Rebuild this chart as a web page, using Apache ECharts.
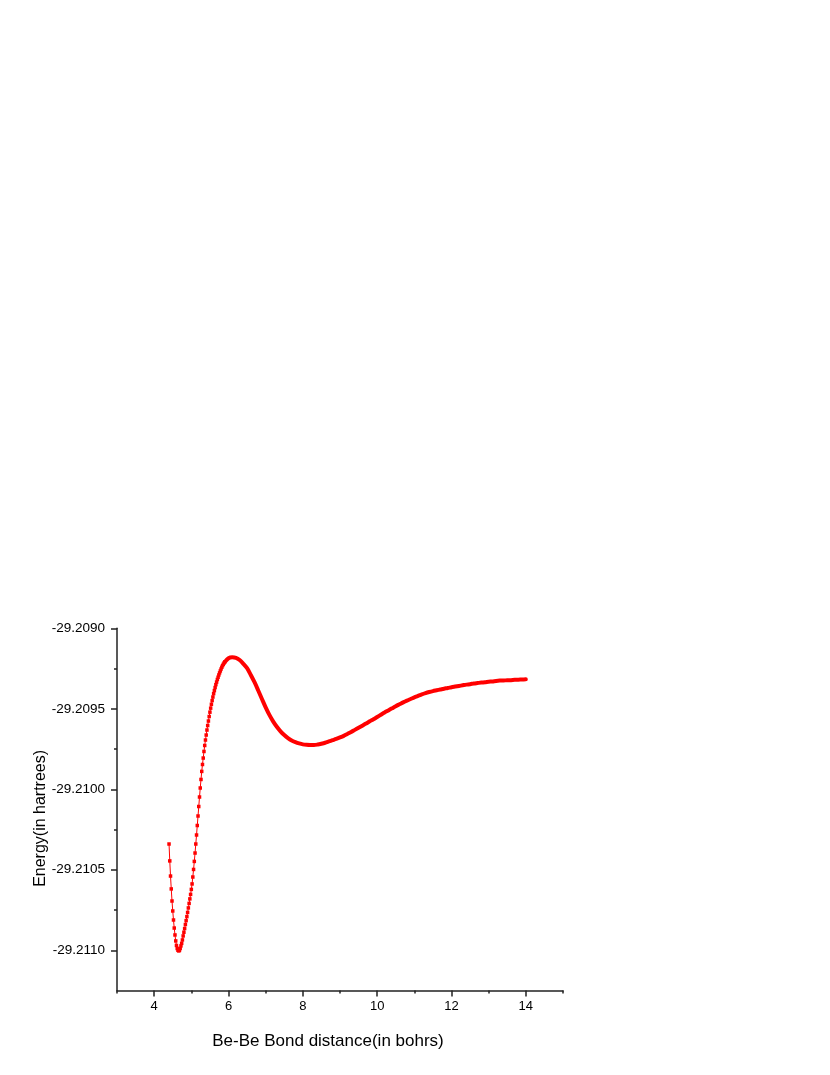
<!DOCTYPE html>
<html>
<head>
<meta charset="utf-8">
<script src="https://cdn.jsdelivr.net/npm/echarts@6/dist/echarts.min.js"></script>
<style>
html,body{margin:0;padding:0;background:#fff;}
#chart{width:830px;height:1075px;}
</style>
</head>
<body>
<div id="chart"></div>
<script>
// Bond distance (bohr) — densely sampled part near the well
const seg1X = [4.40,4.42,4.44,4.46,4.48,4.50,4.52,4.54,4.56,4.58,
  4.60,4.62,4.64,4.66,4.68,4.70,4.72,4.74,4.76,4.78,
  4.80,4.82,4.84,4.86,4.88,4.90,4.92,4.94,4.96,4.98,
  5.00,5.02,5.04,5.06,5.08,5.10,5.12,5.14,5.16,5.18,
  5.20,5.22,5.24,5.26,5.28,5.30,5.32,5.34,5.36,5.38,
  5.40,5.42,5.44,5.46,5.48,5.50,5.52,5.54,5.56,5.58,
  5.60,5.62,5.64,5.66,5.68,5.70,5.72,5.74,5.76,5.78,
  5.80,5.82,5.84,5.86,5.88,5.90];
// Energy (hartree)
const seg1E = [-29.210340,-29.210445,-29.210539,-29.210619,-29.210694,-29.210756,-29.210812,-29.210862,-29.210905,-29.210942,
  -29.210970,-29.210989,-29.211000,-29.211004,-29.211001,-29.210989,-29.210973,-29.210957,-29.210936,-29.210911,
  -29.210888,-29.210865,-29.210840,-29.210816,-29.210791,-29.210765,-29.210737,-29.210709,-29.210681,-29.210653,
  -29.210622,-29.210588,-29.210545,-29.210498,-29.210448,-29.210396,-29.210340,-29.210284,-29.210225,-29.210166,
  -29.210107,-29.210048,-29.209992,-29.209939,-29.209889,-29.209846,-29.209806,-29.209765,-29.209728,-29.209694,
  -29.209663,-29.209632,-29.209604,-29.209576,-29.209548,-29.209521,-29.209496,-29.209472,-29.209449,-29.209427,
  -29.209406,-29.209387,-29.209368,-29.209350,-29.209334,-29.209318,-29.209304,-29.209290,-29.209277,-29.209265,
  -29.209253,-29.209242,-29.209232,-29.209224,-29.209216,-29.209209];

// Outer part of the curve
const seg2X = [5.9,6.0,6.1,6.2,6.3,6.4,6.5,6.6,6.7,6.8,6.9,
  7.0,7.1,7.2,7.3,7.4,7.5,7.6,7.7,7.8,7.9,
  8.0,8.1,8.2,8.3,8.4,8.5,8.6,8.7,8.8,8.9,
  9.0,9.1,9.2,9.3,9.4,9.5,9.6,9.7,9.8,9.9,
  10.0,10.1,10.2,10.3,10.4,10.5,10.6,10.7,10.8,10.9,
  11.0,11.1,11.2,11.3,11.4,11.5,11.6,11.7,11.8,11.9,
  12.0,12.1,12.2,12.3,12.4,12.5,12.6,12.7,12.8,12.9,
  13.0,13.1,13.2,13.3,13.4,13.5,13.6,13.7,13.8,13.9,14.0];
const seg2E = [-29.209209,-29.209186,-29.209180,-29.209183,-29.209197,-29.209221,-29.209248,-29.209290,-29.209335,-29.209386,-29.209439,
  -29.209491,-29.209538,-29.209578,-29.209612,-29.209640,-29.209663,-29.209682,-29.209697,-29.209707,-29.209715,
  -29.209721,-29.209724,-29.209725,-29.209725,-29.209722,-29.209717,-29.209711,-29.209703,-29.209695,-29.209687,
  -29.209678,-29.209668,-29.209656,-29.209644,-29.209631,-29.209618,-29.209605,-29.209592,-29.209578,-29.209565,
  -29.209551,-29.209537,-29.209523,-29.209510,-29.209497,-29.209484,-29.209472,-29.209460,-29.209449,-29.209439,
  -29.209429,-29.209420,-29.209411,-29.209403,-29.209396,-29.209390,-29.209385,-29.209380,-29.209375,-29.209371,
  -29.209366,-29.209362,-29.209358,-29.209354,-29.209350,-29.209347,-29.209343,-29.209340,-29.209337,-29.209335,
  -29.209332,-29.209330,-29.209327,-29.209325,-29.209324,-29.209323,-29.209322,-29.209320,-29.209319,-29.209318,-29.209317];

// Tick labels
const xMajorTicks = [4,6,8,10,12,14];
const xMinorTicks = [3,5,7,9,11,13,15];
const yMajorTicks = [-29.2110,-29.2105,-29.2100,-29.2095,-29.2090];
const yMinorTicks = [-29.21075,-29.21025,-29.20975,-29.20925];

const FONT = '"Liberation Sans", Arial, sans-serif';
const AX = '#222';

const chart = echarts.init(document.getElementById('chart'), null, {renderer:'canvas'});
chart.setOption({
  animation:false,
  backgroundColor:'#fff',
  grid:{left:117, right:267, top:628.3, bottom:84.5, containLabel:false},
  xAxis:[
    {type:'value', min:3, max:15, position:'bottom',
     axisLine:{show:true, lineStyle:{color:AX, width:1.5}},
     axisTick:{show:true, customValues:xMajorTicks, length:6, lineStyle:{color:AX, width:1.5}},
     axisLabel:{show:true, customValues:xMajorTicks, margin:9, fontSize:13, color:'#000', fontFamily:FONT},
     splitLine:{show:false},
     name:'Be-Be Bond distance(in bohrs)', nameLocation:'middle', nameGap:42, nameMoveOverlap:false,
     nameTextStyle:{fontSize:17, color:'#000', fontFamily:FONT, padding:[0,24,0,0]}
    },
    {type:'value', min:3, max:15, position:'bottom',
     axisLine:{show:false},
     axisTick:{show:true, customValues:xMinorTicks, length:3, lineStyle:{color:AX, width:1.5}},
     axisLabel:{show:false},
     splitLine:{show:false}
    }
  ],
  yAxis:[
    {type:'value', min:-29.21125, max:-29.2090, position:'left',
     axisLine:{show:true, lineStyle:{color:AX, width:1.5}},
     axisTick:{show:true, customValues:yMajorTicks, length:6, lineStyle:{color:AX, width:1.5}},
     axisLabel:{show:true, customValues:yMajorTicks, margin:12, fontSize:13.5, color:'#000', fontFamily:FONT,
       formatter:function(v){return Number(v).toFixed(4);}},
     splitLine:{show:false},
     name:'Energy(in hartrees)', nameLocation:'middle', nameGap:68, nameRotate:90, nameMoveOverlap:false,
     nameTextStyle:{fontSize:16, color:'#000', fontFamily:FONT, padding:[0,18,0,0]}
    },
    {type:'value', min:-29.21125, max:-29.2090, position:'left',
     axisLine:{show:false},
     axisTick:{show:true, customValues:yMinorTicks, length:3, lineStyle:{color:AX, width:1.5}},
     axisLabel:{show:false},
     splitLine:{show:false}
    }
  ],
  series:[
    {type:'line', xAxisIndex:0, yAxisIndex:0,
     data: seg1X.map(function(x,i){return [x, seg1E[i]];}),
     symbol:'rect', symbolSize:3.5, showSymbol:true,
     itemStyle:{color:'#ff0000'},
     lineStyle:{color:'#ff0000', width:1},
     z:3
    },
    {type:'line', xAxisIndex:0, yAxisIndex:0,
     data: seg2X.map(function(x,i){return [x, seg2E[i]];}),
     showSymbol:false, symbol:'none', smooth:0.3,
     lineStyle:{color:'#ff0000', width:4, cap:'round', join:'round'},
     z:3
    }
  ]
});
</script>
</body>
</html>
